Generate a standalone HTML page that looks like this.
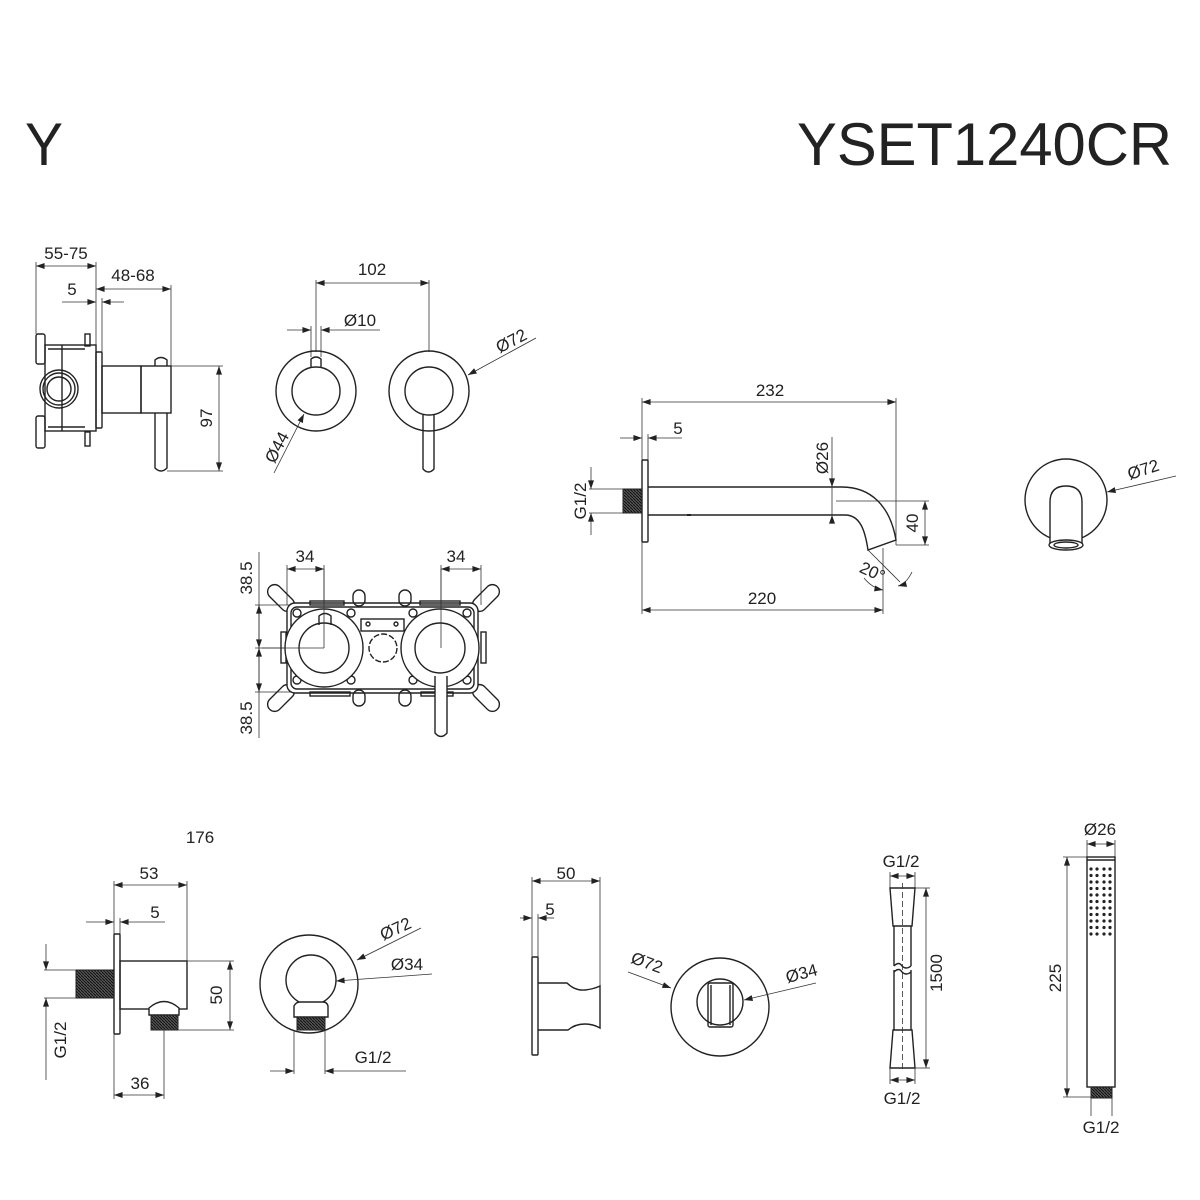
<!DOCTYPE html>
<html><head><meta charset="utf-8"><style>
html,body{margin:0;padding:0;background:#fff;}
svg{display:block;font-family:"Liberation Sans",sans-serif;}
.o{fill:none;stroke:#222;stroke-width:1.4;}
.d{fill:none;stroke:#333;stroke-width:0.8;}
.t{font-size:17px;fill:#222;}
</style></head><body>
<svg width="1200" height="1200" viewBox="0 0 1200 1200" xmlns="http://www.w3.org/2000/svg">
<defs>
<marker id="a" viewBox="0 0 10 7" refX="10" refY="3.5" markerWidth="9" markerHeight="6" markerUnits="userSpaceOnUse" orient="auto-start-reverse"><path d="M0,0 L10,3.5 L0,7 z" fill="#222"/></marker>
<pattern id="th" width="3" height="3" patternUnits="userSpaceOnUse"><rect width="3" height="3" fill="#555"/><line x1="0" y1="0" x2="3" y2="3" stroke="#111" stroke-width="1"/></pattern>
</defs>

<text x="25" y="165" font-size="60" fill="#222" textLength="38" lengthAdjust="spacingAndGlyphs">Y</text>
<text x="797" y="165" font-size="60" fill="#222" textLength="375" lengthAdjust="spacingAndGlyphs">YSET1240CR</text>

<!-- ===== Section 1: valve side ===== -->
<line class="d" x1="36" y1="266" x2="96" y2="266" marker-start="url(#a)" marker-end="url(#a)"/>
<text class="t" x="66" y="259" text-anchor="middle">55-75</text>
<line class="d" x1="96" y1="289" x2="171" y2="289" marker-start="url(#a)" marker-end="url(#a)"/>
<text class="t" x="133" y="281" text-anchor="middle">48-68</text>
<line class="d" x1="62" y1="302" x2="96" y2="302" marker-end="url(#a)"/>
<line class="d" x1="124" y1="302" x2="102" y2="302" marker-end="url(#a)"/>
<text class="t" x="72" y="295" text-anchor="middle">5</text>
<line class="d" x1="36" y1="262" x2="36" y2="334"/>
<line class="d" x1="96" y1="262" x2="96" y2="352"/>
<line class="d" x1="102" y1="298" x2="102" y2="352"/>
<line class="d" x1="171" y1="285" x2="171" y2="366"/>
<rect class="o" x="36" y="334" width="9" height="30" rx="2"/>
<rect class="o" x="36" y="416" width="9" height="32" rx="2"/>
<rect class="o" x="85" y="334" width="5" height="12"/>
<rect class="o" x="85" y="432" width="5" height="14"/>
<rect class="o" x="45" y="345" width="51" height="86"/>
<line class="o" x1="48" y1="349" x2="85" y2="349"/>
<line class="o" x1="48" y1="427" x2="85" y2="427"/>
<line class="o" x1="62" y1="345" x2="62" y2="431"/>
<circle class="o" cx="59" cy="389" r="19"/>
<circle class="o" cx="59" cy="389" r="16"/>
<circle class="o" cx="59" cy="389" r="12"/>
<rect class="o" x="96" y="352" width="6" height="76" rx="1"/>
<rect class="o" x="102" y="366" width="39" height="47"/>
<rect class="o" x="141" y="366" width="30" height="47"/>
<path class="o" d="M155,366 V360 Q161,355 167,360 V366"/>
<path class="o" d="M155,413 V468 Q161,474 167,468 V413"/>
<line class="d" x1="171" y1="366" x2="223" y2="366"/>
<line class="d" x1="167" y1="471" x2="223" y2="471"/>
<line class="d" x1="219" y1="366" x2="219" y2="471" marker-start="url(#a)" marker-end="url(#a)"/>
<text class="t" x="212" y="418" text-anchor="middle" transform="rotate(-90 212 418)">97</text>

<!-- ===== Section 2: front views ===== -->
<line class="d" x1="316" y1="280" x2="316" y2="352"/>
<line class="d" x1="429" y1="280" x2="429" y2="352"/>
<line class="d" x1="316" y1="283" x2="429" y2="283" marker-start="url(#a)" marker-end="url(#a)"/>
<text class="t" x="372" y="275" text-anchor="middle">102</text>
<line class="d" x1="311" y1="326" x2="311" y2="357"/>
<line class="d" x1="321" y1="326" x2="321" y2="357"/>
<line class="d" x1="287" y1="330" x2="311" y2="330" marker-end="url(#a)"/>
<line class="d" x1="380" y1="330" x2="321" y2="330" marker-end="url(#a)"/>
<text class="t" x="360" y="326" text-anchor="middle">Ø10</text>
<circle class="o" cx="316" cy="391" r="40"/>
<circle class="o" cx="316" cy="391" r="24"/>
<path class="o" d="M311,367 V359 Q316,355 321,359 V367"/>
<circle class="o" cx="429" cy="391" r="40"/>
<circle class="o" cx="429" cy="391" r="24"/>
<path class="o" d="M423,415 V469 Q428.5,475 434,469 V415" fill="#fff"/>
<line class="d" x1="536" y1="338" x2="468" y2="375" marker-end="url(#a)"/>
<text class="t" x="514" y="346" text-anchor="middle" transform="rotate(-28 514 346)">Ø72</text>
<line class="d" x1="274" y1="473" x2="304" y2="414" marker-end="url(#a)"/>
<text class="t" x="282" y="450" text-anchor="middle" transform="rotate(-62 282 450)">Ø44</text>

<!-- ===== Section 3: box ===== -->
<line class="d" x1="259" y1="552" x2="259" y2="738"/>
<line class="d" x1="259" y1="605" x2="259" y2="648" marker-start="url(#a)" marker-end="url(#a)"/>
<line class="d" x1="259" y1="648" x2="259" y2="692" marker-start="url(#a)" marker-end="url(#a)"/>
<line class="d" x1="255" y1="605" x2="292" y2="605"/>
<line class="d" x1="255" y1="692" x2="292" y2="692"/>
<line class="d" x1="255" y1="648" x2="324" y2="648"/>
<text class="t" x="252" y="578" text-anchor="middle" transform="rotate(-90 252 578)">38.5</text>
<text class="t" x="252" y="718" text-anchor="middle" transform="rotate(-90 252 718)">38.5</text>
<line class="d" x1="287" y1="565" x2="287" y2="605"/>
<line class="d" x1="324" y1="565" x2="324" y2="648"/>
<line class="d" x1="287" y1="569" x2="324" y2="569" marker-start="url(#a)" marker-end="url(#a)"/>
<text class="t" x="305" y="562" text-anchor="middle">34</text>
<line class="d" x1="441" y1="565" x2="441" y2="648"/>
<line class="d" x1="481" y1="565" x2="481" y2="605"/>
<line class="d" x1="441" y1="569" x2="481" y2="569" marker-start="url(#a)" marker-end="url(#a)"/>
<text class="t" x="456" y="562" text-anchor="middle">34</text>
<g class="o">
<rect x="265" y="591" width="32" height="14" rx="7" transform="rotate(45 281 598)"/>
<rect x="470" y="591" width="32" height="14" rx="7" transform="rotate(-45 486 598)"/>
<rect x="265" y="691" width="32" height="14" rx="7" transform="rotate(-45 281 698)"/>
<rect x="470" y="691" width="32" height="14" rx="7" transform="rotate(45 486 698)"/>
</g>
<rect x="287" y="603" width="191" height="90" rx="8" fill="#fff" stroke="#222" stroke-width="1.4"/>
<rect class="o" x="291" y="607" width="183" height="82" rx="6"/>
<rect class="o" x="353" y="590" width="12" height="16" rx="6"/>
<rect class="o" x="399" y="590" width="12" height="16" rx="6"/>
<rect class="o" x="353" y="690" width="12" height="16" rx="6"/>
<rect class="o" x="399" y="690" width="12" height="16" rx="6"/>
<rect class="o" x="310" y="601" width="34" height="4"/>
<rect class="o" x="420" y="601" width="40" height="4"/>
<rect class="o" x="310" y="692" width="40" height="4"/>
<rect class="o" x="421" y="692" width="32" height="4"/>
<rect class="o" x="281" y="632" width="5" height="31"/>
<rect class="o" x="481" y="632" width="5" height="31"/>
<g class="o">
<circle cx="297" cy="613" r="4"/><circle cx="351" cy="613" r="4"/><circle cx="413" cy="613" r="4"/><circle cx="467" cy="613" r="4"/>
<circle cx="297" cy="680" r="4"/><circle cx="351" cy="680" r="4"/><circle cx="413" cy="680" r="4"/><circle cx="467" cy="680" r="4"/>
</g>
<rect class="o" x="361" y="619" width="43" height="12"/>
<circle class="o" cx="368" cy="624" r="2"/><circle class="o" cx="396" cy="624" r="2"/>
<circle class="o" cx="383" cy="648" r="14" stroke-dasharray="6 2"/>
<circle cx="324" cy="648" r="39" fill="#fff" stroke="#222" stroke-width="1.4"/>
<circle class="o" cx="324" cy="648" r="25"/>
<path class="o" d="M319,625 V616 Q325,611 331,616 V625" fill="#fff"/>
<circle cx="440" cy="648" r="39" fill="#fff" stroke="#222" stroke-width="1.4"/>
<circle class="o" cx="440" cy="648" r="25"/>
<line class="d" x1="262" y1="648" x2="324" y2="648"/>
<line class="d" x1="324" y1="569" x2="324" y2="648"/>
<line class="d" x1="441" y1="569" x2="441" y2="648"/>
<path d="M435,676 V733 Q441,740 447,733 V676" fill="#fff" stroke="#222" stroke-width="1.4"/>

<!-- ===== Section 4: spout ===== -->
<line class="d" x1="642" y1="398" x2="642" y2="460"/>
<line class="d" x1="896" y1="398" x2="896" y2="545"/>
<line class="d" x1="642" y1="402" x2="896" y2="402" marker-start="url(#a)" marker-end="url(#a)"/>
<text class="t" x="770" y="396" text-anchor="middle">232</text>
<line class="d" x1="620" y1="438" x2="642" y2="438" marker-end="url(#a)"/>
<line class="d" x1="682" y1="438" x2="648" y2="438" marker-end="url(#a)"/>
<line class="d" x1="648" y1="434" x2="648" y2="460"/>
<text class="t" x="678" y="434" text-anchor="middle">5</text>
<rect class="o" x="642" y="460" width="6" height="82" rx="1"/>
<rect x="623" y="489" width="19" height="24" fill="url(#th)" stroke="#222"/>
<line class="d" x1="589" y1="489" x2="623" y2="489"/>
<line class="d" x1="589" y1="513" x2="623" y2="513"/>
<line class="d" x1="591" y1="467" x2="591" y2="489" marker-end="url(#a)"/>
<line class="d" x1="591" y1="535" x2="591" y2="513" marker-end="url(#a)"/>
<text class="t" x="586" y="501" text-anchor="middle" transform="rotate(-90 586 501)">G1/2</text>
<path class="o" d="M648,487 H842 C870,487 890,505 896,540 L868,550 C865,530 860,515 845,515 H648"/>
<rect x="687" y="514" width="4" height="2" fill="#222"/>
<line class="d" x1="832" y1="437" x2="832" y2="487" marker-end="url(#a)"/>
<line class="d" x1="832" y1="520" x2="832" y2="515" marker-end="url(#a)"/>
<line class="d" x1="832" y1="487" x2="832" y2="515"/>
<text class="t" x="832" y="458" text-anchor="middle" transform="rotate(-90 832 458)" dy="-4">Ø26</text>
<line class="d" x1="836" y1="501" x2="929" y2="501"/>
<line class="d" x1="896" y1="545" x2="929" y2="545"/>
<line class="d" x1="925" y1="501" x2="925" y2="545" marker-start="url(#a)" marker-end="url(#a)"/>
<text class="t" x="918" y="523" text-anchor="middle" transform="rotate(-90 918 523)">40</text>
<line class="d" x1="883" y1="548" x2="883" y2="614"/>
<line class="d" x1="868" y1="550" x2="900" y2="582"/>
<path class="d" d="M864,578 Q872,588 883,590" marker-end="url(#a)"/>
<path class="d" d="M912,572 Q906,584 898,586" marker-end="url(#a)"/>
<text class="t" x="870" y="577" text-anchor="middle" transform="rotate(25 870 577)">20°</text>
<line class="d" x1="642" y1="542" x2="642" y2="614"/>
<line class="d" x1="642" y1="610" x2="883" y2="610" marker-start="url(#a)" marker-end="url(#a)"/>
<text class="t" x="762" y="604" text-anchor="middle">220</text>
<circle class="o" cx="1066" cy="500" r="41"/>
<path d="M1050,545 V502 Q1050,486 1066,486 Q1082,486 1082,502 V545" fill="#fff" stroke="#222" stroke-width="1.4"/>
<ellipse cx="1066" cy="545" rx="17" ry="5" fill="#fff" stroke="#222" stroke-width="1.4"/>
<ellipse cx="1066" cy="545" rx="12" ry="3" fill="none" stroke="#222" stroke-width="1.4"/>
<line class="d" x1="1176" y1="476" x2="1107" y2="492" marker-end="url(#a)"/>
<text class="t" x="1145" y="475" text-anchor="middle" transform="rotate(-18 1145 475)">Ø72</text>

<!-- ===== Section 5: wall outlet ===== -->
<text class="t" x="200" y="843" text-anchor="middle">176</text>
<line class="d" x1="114" y1="881" x2="114" y2="934"/>
<line class="d" x1="187" y1="881" x2="187" y2="961"/>
<line class="d" x1="114" y1="885" x2="187" y2="885" marker-start="url(#a)" marker-end="url(#a)"/>
<text class="t" x="149" y="879" text-anchor="middle">53</text>
<line class="d" x1="86" y1="922" x2="114" y2="922" marker-end="url(#a)"/>
<line class="d" x1="165" y1="922" x2="120" y2="922" marker-end="url(#a)"/>
<line class="d" x1="120" y1="918" x2="120" y2="934"/>
<text class="t" x="155" y="918" text-anchor="middle">5</text>
<rect class="o" x="114" y="934" width="6" height="100" rx="1"/>
<rect class="o" x="120" y="961" width="67" height="48"/>
<rect x="76" y="970" width="38" height="28" fill="url(#th)" stroke="#222"/>
<path d="M149,1015 V1008 Q164,995 179,1008 V1015 Z" fill="#fff" stroke="#222" stroke-width="1.4"/>
<rect x="151" y="1015" width="27" height="15" fill="url(#th)" stroke="#222"/>
<line class="d" x1="44" y1="970" x2="76" y2="970"/>
<line class="d" x1="44" y1="998" x2="76" y2="998"/>
<line class="d" x1="46" y1="944" x2="46" y2="970" marker-end="url(#a)"/>
<line class="d" x1="46" y1="1080" x2="46" y2="998" marker-end="url(#a)"/>
<text class="t" x="66" y="1040" text-anchor="middle" transform="rotate(-90 66 1040)">G1/2</text>
<line class="d" x1="187" y1="961" x2="234" y2="961"/>
<line class="d" x1="178" y1="1030" x2="234" y2="1030"/>
<line class="d" x1="230" y1="961" x2="230" y2="1030" marker-start="url(#a)" marker-end="url(#a)"/>
<text class="t" x="222" y="995" text-anchor="middle" transform="rotate(-90 222 995)">50</text>
<line class="d" x1="114" y1="1034" x2="114" y2="1099"/>
<line class="d" x1="164" y1="1030" x2="164" y2="1099"/>
<line class="d" x1="114" y1="1095" x2="164" y2="1095" marker-start="url(#a)" marker-end="url(#a)"/>
<text class="t" x="140" y="1089" text-anchor="middle">36</text>
<circle class="o" cx="309" cy="984" r="49"/>
<circle class="o" cx="311" cy="980" r="25"/>
<path d="M294,1017 V1006 Q296,1002 300,1002 H323 Q327,1002 328,1006 V1017 Z" fill="#fff" stroke="#222" stroke-width="1.4"/>
<rect x="297" y="1017" width="28" height="13" fill="url(#th)" stroke="#222"/>
<line class="d" x1="421" y1="928" x2="357" y2="960" marker-end="url(#a)"/>
<text class="t" x="398" y="934" text-anchor="middle" transform="rotate(-25 398 934)">Ø72</text>
<line class="d" x1="432" y1="974" x2="336" y2="981" marker-end="url(#a)"/>
<text class="t" x="407" y="970" text-anchor="middle">Ø34</text>
<line class="d" x1="294" y1="1030" x2="294" y2="1074"/>
<line class="d" x1="325" y1="1030" x2="325" y2="1074"/>
<line class="d" x1="270" y1="1071" x2="294" y2="1071" marker-end="url(#a)"/>
<line class="d" x1="406" y1="1071" x2="325" y2="1071" marker-end="url(#a)"/>
<text class="t" x="373" y="1063" text-anchor="middle">G1/2</text>

<!-- ===== Section 6: holder ===== -->
<line class="d" x1="532" y1="877" x2="532" y2="957"/>
<line class="d" x1="600" y1="877" x2="600" y2="986"/>
<line class="d" x1="532" y1="881" x2="600" y2="881" marker-start="url(#a)" marker-end="url(#a)"/>
<text class="t" x="566" y="879" text-anchor="middle">50</text>
<line class="d" x1="520" y1="918" x2="532" y2="918" marker-end="url(#a)"/>
<line class="d" x1="554" y1="918" x2="538" y2="918" marker-end="url(#a)"/>
<line class="d" x1="538" y1="914" x2="538" y2="957"/>
<text class="t" x="550" y="915" text-anchor="middle">5</text>
<rect class="o" x="532" y="957" width="6" height="98" rx="1"/>
<path class="o" d="M538,983 H567 Q575,991 585,990 Q594,989 600,986 V1028 Q593,1024 585,1024 Q575,1024 568,1030 H538"/>
<circle class="o" cx="720" cy="1007" r="49"/>
<circle class="o" cx="720" cy="1002" r="23"/>
<rect class="o" x="708" y="983" width="25" height="44" rx="2"/>
<line class="o" x1="711" y1="985" x2="711" y2="1025"/>
<line class="o" x1="730" y1="985" x2="730" y2="1025"/>
<line class="d" x1="628" y1="972" x2="671" y2="988" marker-end="url(#a)"/>
<text class="t" x="645" y="968" text-anchor="middle" transform="rotate(20 645 968)">Ø72</text>
<line class="d" x1="816" y1="983" x2="744" y2="1000" marker-end="url(#a)"/>
<text class="t" x="803" y="979" text-anchor="middle" transform="rotate(-15 803 979)">Ø34</text>

<!-- ===== Section 7: hose ===== -->
<text class="t" x="901" y="867" text-anchor="middle">G1/2</text>
<line class="d" x1="890" y1="872" x2="890" y2="888"/>
<line class="d" x1="915" y1="872" x2="915" y2="888"/>
<line class="d" x1="890" y1="876" x2="915" y2="876" marker-start="url(#a)" marker-end="url(#a)"/>
<path class="o" d="M890,888 H915 L912,926 H893 Z"/>
<path class="o" d="M894,926 V966 M911,926 V966 M894,970 V1030 M911,970 V1030"/>
<path class="o" d="M894,966 Q899,961 902,966 Q906,970 911,966 M894,972 Q899,967 902,972 Q906,976 911,972"/>
<path class="o" d="M893,1030 H912 L915,1068 H890 Z"/>
<line class="d" x1="902.5" y1="883" x2="902.5" y2="1072" stroke-dasharray="6 3"/>
<line class="d" x1="915" y1="888" x2="930" y2="888"/>
<line class="d" x1="915" y1="1068" x2="930" y2="1068"/>
<line class="d" x1="926" y1="888" x2="926" y2="1068" marker-start="url(#a)" marker-end="url(#a)"/>
<text class="t" x="942" y="973" text-anchor="middle" transform="rotate(-90 942 973)">1500</text>
<line class="d" x1="890" y1="1068" x2="890" y2="1084"/>
<line class="d" x1="915" y1="1068" x2="915" y2="1084"/>
<line class="d" x1="890" y1="1080" x2="915" y2="1080" marker-start="url(#a)" marker-end="url(#a)"/>
<text class="t" x="902" y="1104" text-anchor="middle">G1/2</text>

<text class="t" x="1100" y="835" text-anchor="middle">Ø26</text>
<line class="d" x1="1087" y1="840" x2="1087" y2="857"/>
<line class="d" x1="1115" y1="840" x2="1115" y2="857"/>
<line class="d" x1="1087" y1="844" x2="1115" y2="844" marker-start="url(#a)" marker-end="url(#a)"/>
<rect class="o" x="1087" y="857" width="28" height="230"/>
<line class="o" x1="1087" y1="860" x2="1115" y2="860"/>
<g fill="#222">
<circle cx="1091" cy="869" r="1.6"/><circle cx="1097" cy="869" r="1.6"/><circle cx="1104" cy="869" r="1.6"/><circle cx="1110" cy="869" r="1.6"/>
<circle cx="1091" cy="875.5" r="1.6"/><circle cx="1097" cy="875.5" r="1.6"/><circle cx="1104" cy="875.5" r="1.6"/><circle cx="1110" cy="875.5" r="1.6"/>
<circle cx="1091" cy="882" r="1.6"/><circle cx="1097" cy="882" r="1.6"/><circle cx="1104" cy="882" r="1.6"/><circle cx="1110" cy="882" r="1.6"/>
<circle cx="1091" cy="888.5" r="1.6"/><circle cx="1097" cy="888.5" r="1.6"/><circle cx="1104" cy="888.5" r="1.6"/><circle cx="1110" cy="888.5" r="1.6"/>
<circle cx="1091" cy="895" r="1.6"/><circle cx="1097" cy="895" r="1.6"/><circle cx="1104" cy="895" r="1.6"/><circle cx="1110" cy="895" r="1.6"/>
<circle cx="1091" cy="901.5" r="1.6"/><circle cx="1097" cy="901.5" r="1.6"/><circle cx="1104" cy="901.5" r="1.6"/><circle cx="1110" cy="901.5" r="1.6"/>
<circle cx="1091" cy="908" r="1.6"/><circle cx="1097" cy="908" r="1.6"/><circle cx="1104" cy="908" r="1.6"/><circle cx="1110" cy="908" r="1.6"/>
<circle cx="1091" cy="914.5" r="1.6"/><circle cx="1097" cy="914.5" r="1.6"/><circle cx="1104" cy="914.5" r="1.6"/><circle cx="1110" cy="914.5" r="1.6"/>
<circle cx="1091" cy="921" r="1.6"/><circle cx="1097" cy="921" r="1.6"/><circle cx="1104" cy="921" r="1.6"/><circle cx="1110" cy="921" r="1.6"/>
<circle cx="1091" cy="927.5" r="1.6"/><circle cx="1097" cy="927.5" r="1.6"/><circle cx="1104" cy="927.5" r="1.6"/><circle cx="1110" cy="927.5" r="1.6"/>
<circle cx="1091" cy="934" r="1.6"/><circle cx="1097" cy="934" r="1.6"/><circle cx="1104" cy="934" r="1.6"/><circle cx="1110" cy="934" r="1.6"/>
</g>
<rect x="1091" y="1087" width="21" height="11" fill="url(#th)" stroke="#222"/>
<line class="d" x1="1063" y1="857" x2="1087" y2="857"/>
<line class="d" x1="1063" y1="1097" x2="1091" y2="1097"/>
<line class="d" x1="1067" y1="857" x2="1067" y2="1097" marker-start="url(#a)" marker-end="url(#a)"/>
<text class="t" x="1061" y="978" text-anchor="middle" transform="rotate(-90 1061 978)">225</text>
<line class="d" x1="1091" y1="1098" x2="1091" y2="1116"/>
<line class="d" x1="1112" y1="1098" x2="1112" y2="1116"/>
<text class="t" x="1101" y="1133" text-anchor="middle">G1/2</text>
</svg>
</body></html>
